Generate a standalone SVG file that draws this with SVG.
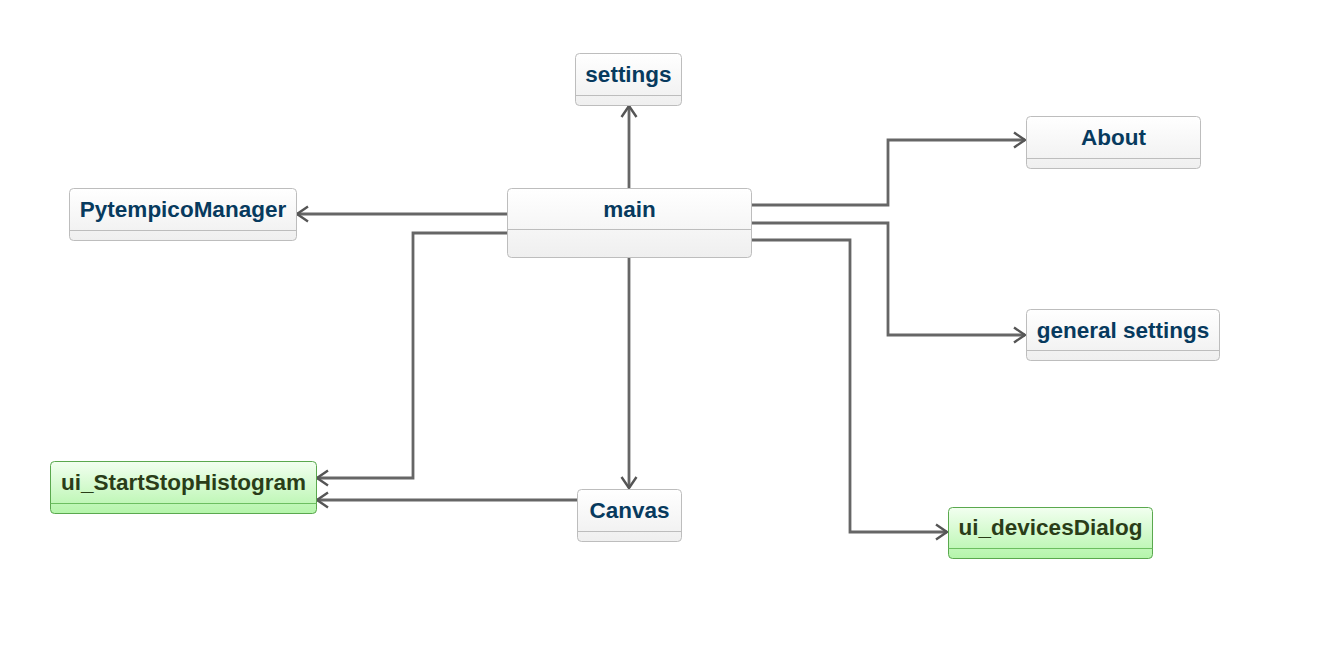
<svg xmlns="http://www.w3.org/2000/svg" width="1338" height="658" viewBox="0 0 1338 658">
<defs>
<linearGradient id="gw" x1="0" y1="0" x2="0" y2="1"><stop offset="0" stop-color="#ffffff"/><stop offset="1" stop-color="#efefef"/></linearGradient>
<linearGradient id="gg" x1="0" y1="0" x2="0" y2="1"><stop offset="0" stop-color="#f2fff0"/><stop offset="1" stop-color="#b4f5aa"/></linearGradient>
<marker id="arr" markerWidth="18" markerHeight="18" refX="13" refY="9" orient="auto" markerUnits="userSpaceOnUse">
<path d="M2,1.5 L13,9 L2,16.5" fill="none" stroke="#555" stroke-width="2.4"/>
</marker>
<style>
.box{fill:url(#gw);stroke:#bdbdbd;stroke-width:1}
.div{stroke:#bdbdbd;stroke-width:1}
.gbox{fill:url(#gg);stroke:#5aa84e;stroke-width:1}
.gdiv{stroke:#6cbf60;stroke-width:1}
.t{font-family:"Liberation Sans",Arial,sans-serif;font-weight:bold;font-size:22.5px;fill:#073a5e;text-anchor:middle}
.gt{font-family:"Liberation Sans",Arial,sans-serif;font-weight:bold;font-size:22.5px;fill:#2a3d18;text-anchor:middle}
.c{fill:none;stroke:#666;stroke-width:2.8;marker-end:url(#arr)}
</style>
</defs>
<rect width="1338" height="658" fill="#ffffff"/>
<g id="connectors">
<path class="c" d="M629,188 L629,106"/>
<path class="c" d="M507,214 L297,214"/>
<path class="c" d="M507,233 L413,233 L413,478 L317,478"/>
<path class="c" d="M577,500 L317,500"/>
<path class="c" d="M629,257 L629,488"/>
<path class="c" d="M751,205 L888,205 L888,140 L1025,140"/>
<path class="c" d="M751,223 L888,223 L888,335 L1025,335"/>
<path class="c" d="M751,240 L850,240 L850,532 L947,532"/>
</g>
<g id="settings"><rect class="box" x="575.5" y="53.5" width="106" height="52" rx="4"/><line class="div" x1="575.5" y1="95.5" x2="681.5" y2="95.5"/><text class="t" x="628.5" y="82">settings</text></g>
<g id="main"><rect class="box" x="507.5" y="188.5" width="244" height="69" rx="4"/><line class="div" x1="507.5" y1="229.5" x2="751.5" y2="229.5"/><text class="t" x="629.5" y="217">main</text></g>
<g id="PytempicoManager"><rect class="box" x="69.5" y="188.5" width="227" height="52" rx="4"/><line class="div" x1="69.5" y1="230.5" x2="296.5" y2="230.5"/><text class="t" x="183" y="217">PytempicoManager</text></g>
<g id="About"><rect class="box" x="1026.5" y="116.5" width="174" height="52" rx="4"/><line class="div" x1="1026.5" y1="158.5" x2="1200.5" y2="158.5"/><text class="t" x="1113.5" y="145">About</text></g>
<g id="general_settings"><rect class="box" x="1026.5" y="309.5" width="193" height="51" rx="4"/><line class="div" x1="1026.5" y1="350.5" x2="1219.5" y2="350.5"/><text class="t" x="1123" y="338">general settings</text></g>
<g id="ui_StartStopHistogram"><rect class="gbox" x="50.5" y="461.5" width="266" height="52" rx="4"/><line class="gdiv" x1="50.5" y1="503.5" x2="316.5" y2="503.5"/><text class="gt" x="183.5" y="490">ui_StartStopHistogram</text></g>
<g id="Canvas"><rect class="box" x="577.5" y="489.5" width="104" height="52" rx="4"/><line class="div" x1="577.5" y1="531.5" x2="681.5" y2="531.5"/><text class="t" x="629.5" y="518">Canvas</text></g>
<g id="ui_devicesDialog"><rect class="gbox" x="948.5" y="507.5" width="204" height="51" rx="4"/><line class="gdiv" x1="948.5" y1="548.5" x2="1152.5" y2="548.5"/><text class="gt" x="1050.5" y="535">ui_devicesDialog</text></g>
</svg>
